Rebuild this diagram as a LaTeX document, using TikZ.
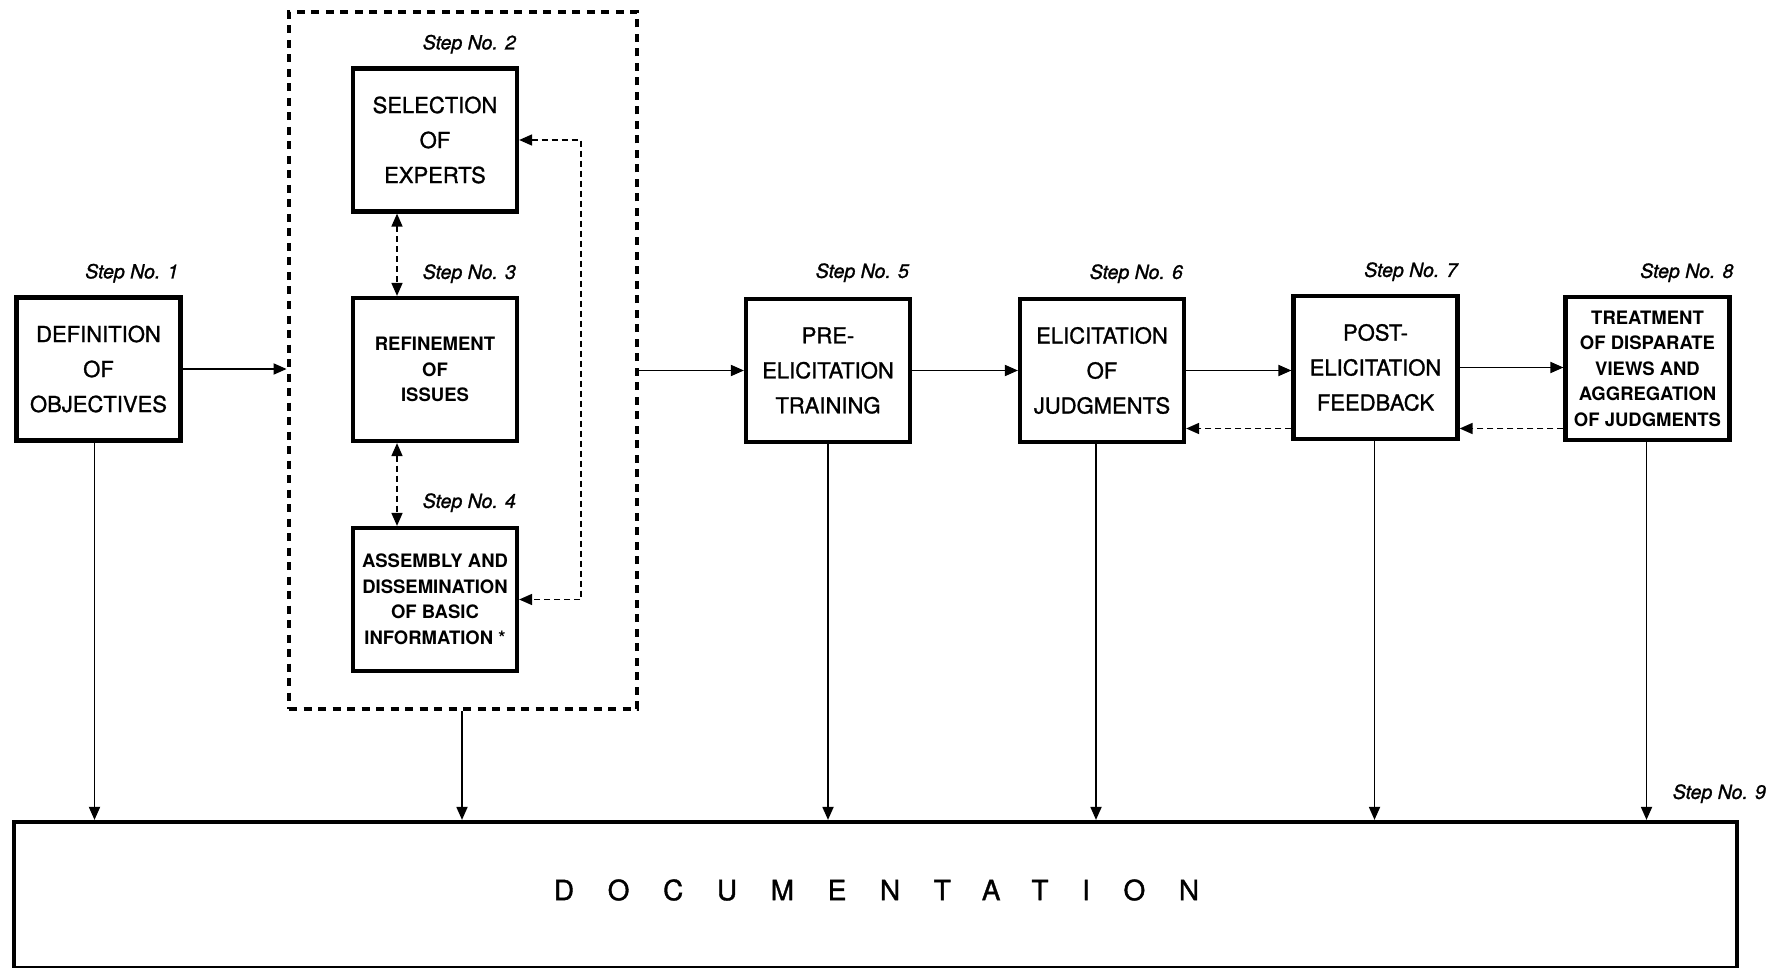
\documentclass[tikz,border=0pt]{standalone}
\usepackage{fontspec}
\setmainfont{TeX Gyre Heros}
\newfontfamily\medfont[FakeBold=1.2]{TeX Gyre Heros}
\usetikzlibrary{arrows.meta,calc}
\begin{document}
\begin{tikzpicture}[x=1pt,y=-1pt,
  box/.style={draw, line width=4.2pt, minimum width=164pt, minimum height=143pt,
    align=center, inner sep=0pt, font=\medfont\fontsize{22}{35}\selectfont},
  sbox/.style={box, font=\bfseries\fontsize{18.5}{25.5}\selectfont},
  steplbl/.style={font=\medfont\itshape\fontsize{19.5}{22}\selectfont, anchor=base east, inner sep=0pt},
  tipa/.tip={Triangle[length=13pt,width=11pt]},
  conn/.style={line width=1.8pt, -tipa},
  dconn/.style={line width=1.6pt, dash pattern=on 6pt off 4pt, -tipa},
  ddconn/.style={line width=1.6pt, dash pattern=on 6pt off 4pt, tipa-tipa},
  grpbox/.style={draw, line width=4.8pt, dash pattern=on 8pt off 6.5pt,
    minimum width=348pt, minimum height=697pt, inner sep=0pt},
]
\useasboundingbox (0,0) rectangle (1779,968);

\node[grpbox] (grp) at (463,360.5) {};

\node[box]  (b1) at (98.5,369)    {DEFINITION\\OF\\OBJECTIVES};
\node[box]  (b2) at (435,140)     {SELECTION\\OF\\EXPERTS};
\node[sbox] (b3) at (435,369.5)   {REFINEMENT\\OF\\ISSUES};
\node[sbox] (b4) at (435,599.5)   {ASSEMBLY AND\\DISSEMINATION\\OF BASIC\\INFORMATION *};
\node[box]  (b5) at (828,370.5)   {PRE-\\ELICITATION\\TRAINING};
\node[box]  (b6) at (1102,370.5)  {ELICITATION\\OF\\JUDGMENTS};
\node[box]  (b7) at (1375.5,367.5){POST-\\ELICITATION\\FEEDBACK};
\node[sbox] (b8) at (1647.5,368.5){TREATMENT\\OF DISPARATE\\VIEWS AND\\AGGREGATION\\OF JUDGMENTS};

\node[draw, line width=4.2pt, minimum width=1723pt, minimum height=146pt, inner sep=0pt,
  font=\medfont\fontsize{28}{30}\selectfont] (doc) at (875.5,895) {};
\node[font=\medfont\fontsize{28}{30}\selectfont, inner sep=0pt] (doctext) at ([xshift=1pt,yshift=5pt]doc.center)
  {\addfontfeature{LetterSpace=120}DOCUMENTATION};

% step labels
\node[steplbl] (s1) at ([xshift=-4pt,yshift=17pt]b1.north east) {Step No. 1};
\node[steplbl] (s2) at ([xshift=-3pt,yshift=17pt]b2.north east) {Step No. 2};
\node[steplbl] (s3) at ([xshift=-3pt,yshift=17pt]b3.north east) {Step No. 3};
\node[steplbl] (s4) at ([xshift=-3pt,yshift=18pt]b4.north east) {Step No. 4};
\node[steplbl] (s5) at ([xshift=-3pt,yshift=19pt]b5.north east) {Step No. 5};
\node[steplbl] (s6) at ([xshift=-3pt,yshift=18pt]b6.north east) {Step No. 6};
\node[steplbl] (s7) at ([xshift=-2pt,yshift=17pt]b7.north east) {Step No. 7};
\node[steplbl] (s8) at ([xshift=2pt,yshift=17pt]b8.north east)  {Step No. 8};
\node[steplbl] (s9) at ([xshift=27pt,yshift=21pt]doc.north east) {Step No. 9};

% main flow
\draw[conn] (b1.east) -- (b1.east -| grp.west);
\draw[conn] (b5.west -| grp.east) -- (b5.west);
\draw[conn] (b5.east) -- (b5.east -| b6.west);
\draw[conn] (b6.east) -- (b6.east -| b7.west);
\draw[conn] (b7.east) -- (b7.east -| b8.west);

% feedback
\draw[dconn] ([yshift=-61pt]b7.west) -- ([yshift=-61pt]b7.west -| b6.east);
\draw[dconn] ([yshift=-60pt]b8.west) -- ([yshift=-60pt]b8.west -| b7.east);

% inside group
\draw[ddconn] ([xshift=-38pt]b2.south) -- ([xshift=-38pt]b2.south |- b3.north);
\draw[ddconn] ([xshift=-38pt]b3.south) -- ([xshift=-38pt]b3.south |- b4.north);
\draw[ddconn] (b2.east) -- ++(62,0) |- (b4.east);

% to documentation
\draw[conn] ([xshift=-4pt]b1.south) -- ([xshift=-4pt]b1.south |- doc.north);
\draw[conn] ([xshift=-1pt]grp.south) -- ([xshift=-1pt]grp.south |- doc.north);
\draw[conn] (b5.south) -- (b5.south |- doc.north);
\draw[conn] ([xshift=-6pt]b6.south) -- ([xshift=-6pt]b6.south |- doc.north);
\draw[conn] ([xshift=-1pt]b7.south) -- ([xshift=-1pt]b7.south |- doc.north);
\draw[conn] ([xshift=-1pt]b8.south) -- ([xshift=-1pt]b8.south |- doc.north);
\end{tikzpicture}
\end{document}
